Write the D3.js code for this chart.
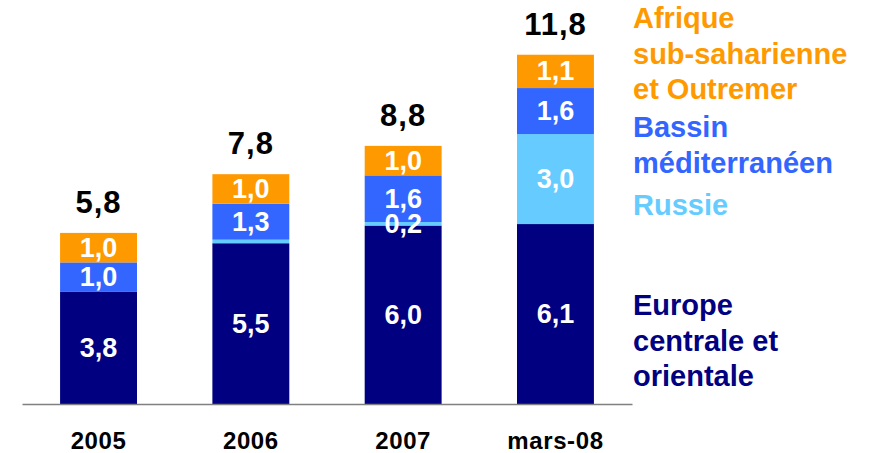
<!DOCTYPE html>
<html>
<head>
<meta charset="utf-8">
<script src="https://cdn.jsdelivr.net/npm/d3@7"></script>
<style>
  body { margin: 0; background: #fff; }
  svg { font-family: "Liberation Sans", Arial, sans-serif; font-weight: bold; }
</style>
</head>
<body>
<div id="chart"></div>
<script>
// data
var periods = ["2005", "2006", "2007", "mars-08"];
var europe  = [3.8, 5.45, 6.05, 6.1];
var russie  = [0, 0.12, 0.12, 3.05];
var bassin  = [1.0, 1.22, 1.58, 1.56];
var afrique = [1.0, 1.0, 1.0, 1.13];

var europeLabels  = ["3,8", "5,5", "6,0", "6,1"];
var russieLabels  = ["", "", "0,2", "3,0"];
var bassinLabels  = ["1,0", "1,3", "1,6", "1,6"];
var afriqueLabels = ["1,0", "1,0", "1,0", "1,1"];
var totalLabels   = ["5,8", "7,8", "8,8", "11,8"];

var legendAfrique = ["Afrique", "sub-saharienne", "et Outremer"];
var legendBassin  = ["Bassin", "méditerranéen"];
var legendRussie  = ["Russie"];
var legendEurope  = ["Europe", "centrale et", "orientale"];

var svgWidth = 870;
var svgHeight = 453;

var svg = d3.select("#chart")
    .append("svg")
    .attr("width", svgWidth)
    .attr("height", svgHeight);

var x = d3.scaleBand()
    .domain(periods)
    .range([22, 632])
    .paddingInner(0.495)
    .paddingOuter(0.25);

var y = d3.scaleLinear()
    .domain([0, 12])
    .range([404, 50]);

var series = [
  { key: "europe",  values: europe,  labels: europeLabels,  color: "#000080" },
  { key: "russie",  values: russie,  labels: russieLabels,  color: "#66CCFF" },
  { key: "bassin",  values: bassin,  labels: bassinLabels,  color: "#3366FF" },
  { key: "afrique", values: afrique, labels: afriqueLabels, color: "#FF9900" }
];

var rows = periods.map(function(p, i) {
  var r = { period: p };
  series.forEach(function(s) { r[s.key] = s.values[i]; });
  return r;
});

var stack = d3.stack().keys(series.map(function(s) { return s.key; }));
var stacked = stack(rows);

var layers = svg.append("g")
  .selectAll("g")
  .data(stacked)
  .enter()
  .append("g")
    .style("fill", function(d, i) { return series[i].color; });

layers.selectAll("rect")
  .data(function(d) { return d; })
  .enter()
  .append("rect")
    .attr("x", function(d) { return x(d.data.period); })
    .attr("width", x.bandwidth())
    .attr("y", function(d) { return y(d[1]); })
    .attr("height", function(d) { return y(d[0]) - y(d[1]); });

// axis line
svg.append("g")
    .attr("transform", "translate(0," + y(0) + ")")
    .call(d3.axisBottom(x).tickSize(0).tickFormat(""))
    .call(function(g) { g.select(".domain").attr("stroke", "#808080").attr("stroke-width", 1.5); });

// category labels
svg.append("g")
  .selectAll("text")
  .data(periods)
  .enter()
  .append("text")
    .attr("x", function(d) { return x(d) + x.bandwidth() / 2; })
    .attr("y", 449)
    .attr("text-anchor", "middle")
    .style("font-size", "24px")
    .style("letter-spacing", "0.6px")
    .style("fill", "#000")
    .text(function(d) { return d; });

// values inside segments
stacked.forEach(function(layer, si) {
  svg.append("g")
    .selectAll("text")
    .data(layer)
    .enter()
    .append("text")
      .attr("x", function(d) { return x(d.data.period) + x.bandwidth() / 2; })
      .attr("y", function(d) { return (y(d[0]) + y(d[1])) / 2 + 9; })
      .attr("text-anchor", "middle")
      .style("font-size", "27px")
      .style("fill", "#fff")
      .text(function(d, i) { return series[si].labels[i]; });
});

// totals above each bar
var topLayer = stacked[stacked.length - 1];
svg.append("g")
  .selectAll("text")
  .data(topLayer)
  .enter()
  .append("text")
    .attr("x", function(d) { return x(d.data.period) + x.bandwidth() / 2; })
    .attr("y", function(d) { return y(d[1]) - 20; })
    .attr("text-anchor", "middle")
    .style("font-size", "31px")
    .style("letter-spacing", "1px")
    .style("fill", "#000")
    .text(function(d, i) { return totalLabels[i]; });

// legend
function legendBlock(lines, firstBaseline, color) {
  svg.append("g")
    .selectAll("text")
    .data(lines)
    .enter()
    .append("text")
      .attr("x", 633)
      .attr("y", function(d, i) { return firstBaseline + i * 35.7; })
      .style("font-size", "29px")
      .style("fill", color)
      .text(function(d) { return d; });
}
legendBlock(legendAfrique, 28, "#FF9900");
legendBlock(legendBassin, 137, "#3366FF");
legendBlock(legendRussie, 215, "#66CCFF");
legendBlock(legendEurope, 315, "#000080");
</script>
</body>
</html>
